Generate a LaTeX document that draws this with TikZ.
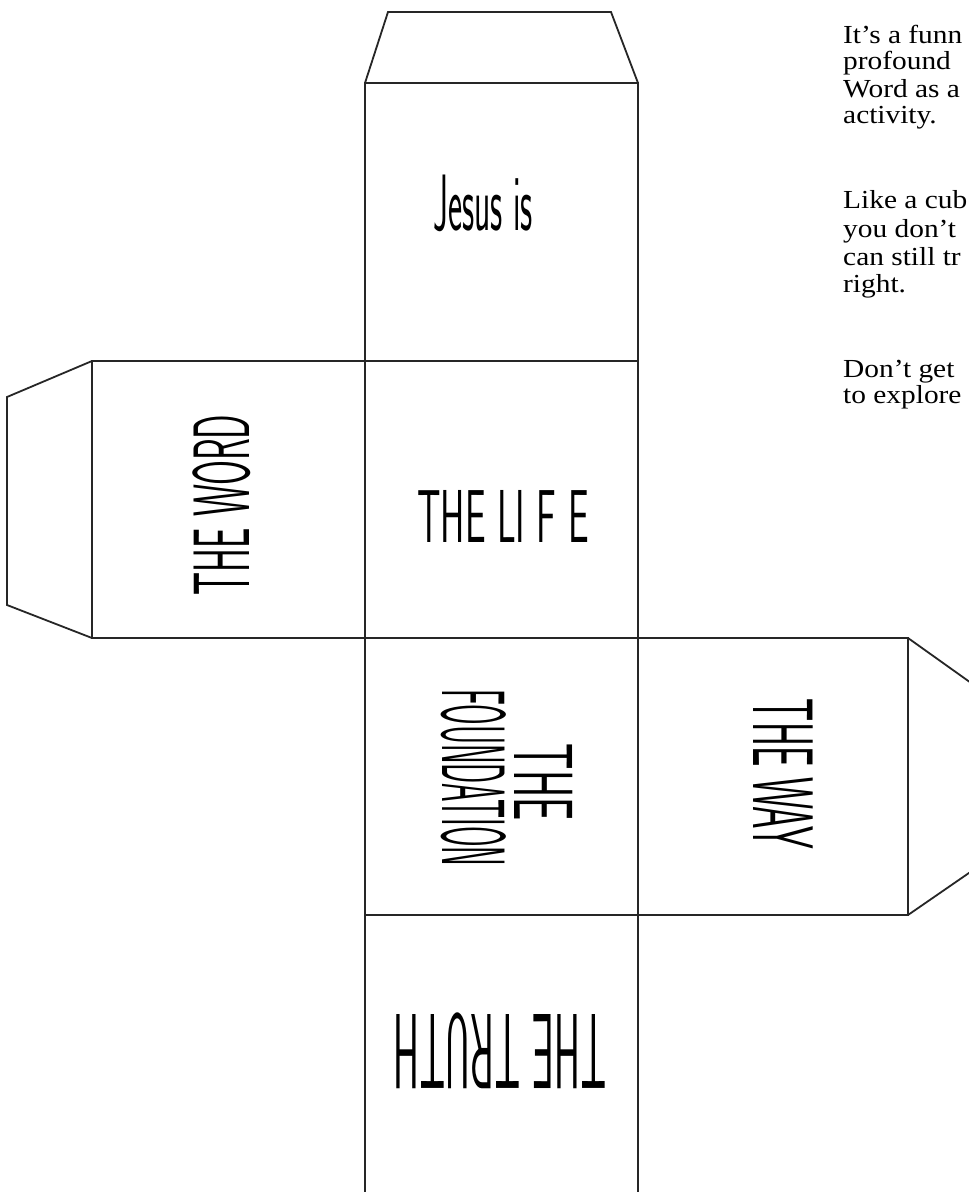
\documentclass[tikz,border=0pt]{standalone}
\usepackage{fontspec}
\usepackage{graphicx}
\setmainfont{Liberation Serif}
\tikzset{
  edge/.style={draw=black!85, line width=1.8pt, line join=miter},
  facetext/.style={inner sep=0pt, font=\sffamily\fontsize{80}{80}\selectfont},
  para/.style={anchor=base west, inner sep=0pt, font=\fontsize{26}{27}\selectfont}
}
\newcommand{\fsz}[1]{\fontsize{#1}{#1}\selectfont}
\newcommand{\wide}[1]{\scalebox{1.13}[1]{#1}}
\begin{document}
\begin{tikzpicture}[x=1pt,y=-1pt]
\useasboundingbox (0,0) rectangle (969,1192);
\fill[white] (0,0) rectangle (969,1192);
\begin{scope}
\clip (0,0) rectangle (969,1192);
% column of faces
\draw[edge] (365,83) rectangle (638,361);
\draw[edge] (365,361) rectangle (638,638);
\draw[edge] (365,638) rectangle (638,915);
\draw[edge] (365,915) rectangle (638,1196);
% side faces
\draw[edge] (92,361) rectangle (365,638);
\draw[edge] (638,638) rectangle (908,915);
% tabs
\draw[edge] (365,83) -- (388,12) -- (611,12) -- (638,83);
\draw[edge] (92,361) -- (7,397) -- (7,605) -- (92,638);
\draw[edge] (908,638) -- (995,700) -- (995,855) -- (908,915);
% texts on faces
\node[facetext, font=\sffamily\fsz{80}] (jesus) at (483,203) {\scalebox{0.42}[1]{Jesus is}};
\node[facetext, font=\sffamily\fsz{75}] (life) at (503,516) {\scalebox{0.49}[1]{THE LI F E}};
\node[facetext, rotate=90, font=\sffamily\fsz{80}] (word) at (222,505) {\scalebox{0.45}[1]{THE WORD}};
\node[facetext, rotate=-90, font=\sffamily\fsz{84}] (the) at (544,782) {\scalebox{0.49}[1]{THE}};
\node[facetext, rotate=-90, font=\sffamily\fsz{90}] (found) at (474,778) {\scalebox{0.33}[1]{FOUNDATION}};
\node[facetext, rotate=-90, font=\sffamily\fsz{86}] (way) at (783,774) {\scalebox{0.42}[1]{THE WAY}};
\node[facetext, rotate=180, font=\sffamily\fsz{107}] (truth) at (500,1051) {\scalebox{0.37}[1]{THE TRUTH}};
% paragraph text, cut at the right edge
\node[para] (p1) at (843,43) {\wide{It’s a funn}};
\node[para] (p2) at (843,69) {\wide{profound}};
\node[para] (p3) at (843,97) {\wide{Word as a}};
\node[para] (p4) at (843,123) {\wide{activity.}};
\node[para] (p5) at (843,208) {\wide{Like a cub}};
\node[para] (p6) at (843,237) {\wide{you don’t}};
\node[para] (p7) at (843,265) {\wide{can still tr}};
\node[para] (p8) at (843,292) {\wide{right.}};
\node[para] (p9) at (843,377) {\wide{Don’t get}};
\node[para] (p10) at (843,403) {\wide{to explore}};
\end{scope}
\end{tikzpicture}
\end{document}
